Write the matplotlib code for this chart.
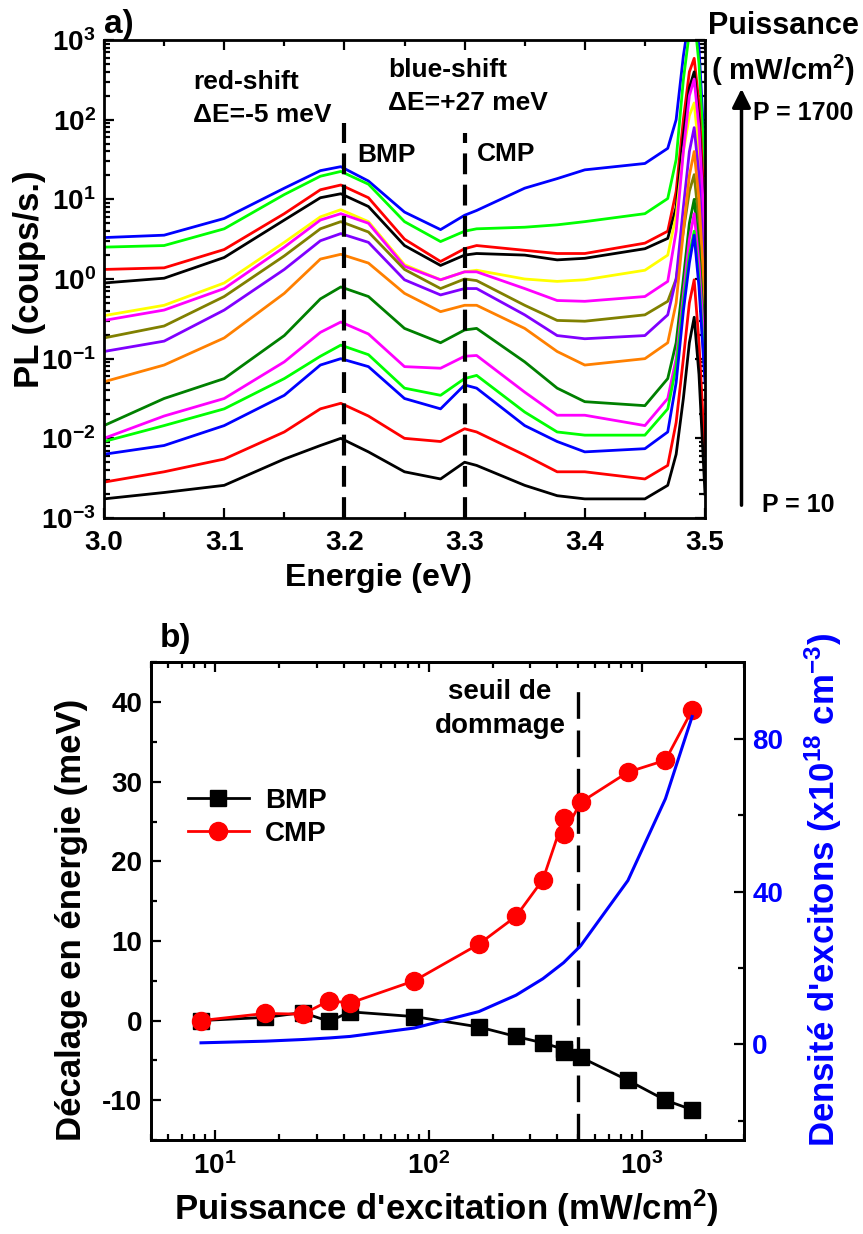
import numpy as np
import matplotlib
matplotlib.use("Agg")
import matplotlib.pyplot as plt
from matplotlib.ticker import MultipleLocator, LogLocator, FuncFormatter, NullFormatter, FixedLocator

# ---- data, panel a) : PL spectra, log10(counts/s), top (1715 mW/cm2) to bottom (8.6 mW/cm2)
energy = [3.000, 3.050, 3.100, 3.150, 3.180, 3.197, 3.220, 3.250, 3.280, 3.300, 3.310,
          3.350, 3.377, 3.400, 3.450, 3.469, 3.476, 3.482, 3.487, 3.491, 3.495, 3.500]

pl_1715 = [0.52, 0.55, 0.76, 1.14, 1.36, 1.41, 1.23, 0.84, 0.62, 0.80, 0.86, 1.14, 1.26, 1.37, 1.45, 1.64, 2.0, 2.8, 3.3, 3.5, 2.9, 1.5]
pl_1286 = [0.40, 0.42, 0.63, 1.06, 1.29, 1.35, 1.19, 0.72, 0.47, 0.60, 0.63, 0.65, 0.68, 0.72, 0.82, 1.01, 1.5, 2.5, 3.1, 3.3, 2.7, 1.3]
pl_858 = [0.12, 0.14, 0.37, 0.82, 1.12, 1.18, 1.02, 0.50, 0.22, 0.38, 0.42, 0.36, 0.32, 0.32, 0.45, 0.60, 1.1, 2.0, 2.6, 2.77, 2.2, 0.8]
pl_515 = [-0.05, 0.01, 0.27, 0.74, 1.02, 1.07, 0.91, 0.42, 0.17, 0.30, 0.32, 0.30, 0.24, 0.26, 0.38, 0.51, 0.9, 1.8, 2.4, 2.6, 2.0, 0.6]
pl_429b = [-0.46, -0.33, -0.05, 0.46, 0.78, 0.87, 0.72, 0.18, -0.01, 0.09, 0.11, 0.0, -0.03, -0.01, 0.11, 0.30, 0.8, 1.6, 2.05, 2.21, 1.6, 0.3]
pl_429a = [-0.52, -0.39, -0.12, 0.40, 0.74, 0.82, 0.70, 0.16, -0.01, 0.09, 0.09, -0.12, -0.27, -0.28, -0.22, -0.03, 0.6, 1.6, 2.3, 2.51, 1.9, 0.5]
pl_343 = [-0.74, -0.59, -0.22, 0.29, 0.63, 0.72, 0.59, 0.12, -0.12, 0.0, -0.02, -0.33, -0.52, -0.53, -0.45, -0.28, 0.0, 0.6, 1.1, 1.31, 0.7, -0.5]
pl_257 = [-0.91, -0.78, -0.39, 0.12, 0.48, 0.57, 0.46, -0.01, -0.20, -0.12, -0.12, -0.45, -0.71, -0.75, -0.71, -0.45, 0.0, 0.9, 1.6, 1.9, 1.3, 0.0]
pl_172 = [-1.29, -1.08, -0.74, -0.18, 0.25, 0.31, 0.20, -0.18, -0.41, -0.33, -0.33, -0.62, -0.91, -1.08, -1.00, -0.80, -0.3, 0.6, 1.3, 1.6, 1.0, -0.3]
pl_86 = [-1.84, -1.50, -1.25, -0.71, -0.25, -0.10, -0.22, -0.62, -0.80, -0.64, -0.62, -1.04, -1.37, -1.54, -1.59, -1.25, -0.8, 0.0, 0.7, 1.0, 0.4, -0.9]
pl_43 = [-2.0, -1.72, -1.50, -1.04, -0.67, -0.54, -0.69, -1.10, -1.12, -0.97, -0.96, -1.42, -1.71, -1.71, -1.84, -1.50, -1.0, -0.2, 0.5, 0.82, 0.2, -1.0]
pl_34 = [-2.04, -1.84, -1.63, -1.25, -0.97, -0.83, -0.95, -1.37, -1.46, -1.25, -1.21, -1.67, -1.92, -1.96, -1.96, -1.63, -1.1, -0.3, 0.3, 0.6, 0.0, -1.2]
pl_26 = [-2.2, -2.09, -1.84, -1.46, -1.08, -1.0, -1.10, -1.50, -1.63, -1.33, -1.37, -1.84, -2.04, -2.17, -2.13, -1.92, -1.3, -0.4, 0.2, 0.55, -0.1, -1.3]
pl_17 = [-2.55, -2.42, -2.26, -1.92, -1.63, -1.56, -1.72, -2.0, -2.04, -1.88, -1.92, -2.21, -2.42, -2.42, -2.51, -2.34, -1.8, -1.0, -0.3, -0.01, -0.8, -2.2]
pl_8 = [-2.76, -2.68, -2.59, -2.26, -2.09, -2.0, -2.17, -2.42, -2.51, -2.30, -2.34, -2.59, -2.72, -2.76, -2.76, -2.59, -2.2, -1.5, -0.8, -0.48, -1.2, -2.7]

spectra = [pl_1715, pl_1286, pl_858, pl_515, pl_429b, pl_429a, pl_343, pl_257,
           pl_172, pl_86, pl_43, pl_34, pl_26, pl_17, pl_8]
spec_colors = ['#0000ff', '#00ff00', '#ff0000', '#000000', '#ffff00', '#ff00ff', '#808000',
               '#8000ff', '#ff8000', '#008000', '#ff00ff', '#00ff00', '#0000ff', '#ff0000', '#000000']

bmp_energy = 3.20
cmp_energy = 3.30

# ---- data, panel b)
power = [8.6, 17.2, 25.7, 34.3, 42.9, 85.8, 172, 257, 343, 429, 429, 515, 858, 1286, 1715]
shift_bmp = [0.0, 0.4, 1.0, -0.1, 1.1, 0.5, -0.8, -2.0, -2.8, -3.6, -4.0, -4.6, -7.5, -10.0, -11.2]
shift_cmp = [0.0, 0.9, 0.8, 2.5, 2.2, 5.0, 9.6, 13.1, 17.7, 25.4, 23.4, 27.4, 31.2, 32.7, 39.0]
density = [0.43, 0.86, 1.29, 1.7, 2.1, 4.3, 8.6, 12.9, 17.2, 21.4, 21.4, 25.8, 42.9, 64.3, 85.8]
damage_threshold = 500

# ---- style
plt.rcParams['font.family'] = ['Liberation Sans', 'DejaVu Sans']
plt.rcParams['font.weight'] = 'bold'
plt.rcParams['axes.labelweight'] = 'bold'
plt.rcParams['axes.unicode_minus'] = False
plt.rcParams['mathtext.fontset'] = 'custom'
plt.rcParams['mathtext.rm'] = 'Liberation Sans:bold'
plt.rcParams['mathtext.bf'] = 'Liberation Sans:bold'
plt.rcParams['mathtext.it'] = 'Liberation Sans:bold'
plt.rcParams['mathtext.default'] = 'rm'

W, H = 863, 1234
fig = plt.figure(figsize=(W / 100, H / 100), dpi=100)


def fx(x):
    return x / W


def fy(y):
    return 1 - y / H


def style_axes(ax):
    for s in ax.spines.values():
        s.set_linewidth(2.0)
    ax.tick_params(which='both', direction='in', width=1.6, top=True, right=True,
                   labelsize=20, pad=6)
    ax.tick_params(which='major', length=7)
    ax.tick_params(which='minor', length=4)


def pow10(v, pos):
    return r'$10^{%d}$' % int(round(np.log10(v)))


# ---------------- panel a)
ax1 = fig.add_axes([fx(104), fy(518), fx(601), 478 / H])
for vals, c in zip(spectra, spec_colors):
    ax1.plot(energy, 10 ** np.array(vals), color=c, lw=2.0)
ax1.set_yscale('log')
ax1.set_xlim(3.0, 3.5)
ax1.set_ylim(1e-3, 1e3)
ax1.xaxis.set_major_locator(MultipleLocator(0.1))
ax1.xaxis.set_minor_locator(MultipleLocator(0.05))
ax1.yaxis.set_major_locator(LogLocator(base=10, numticks=10))
ax1.yaxis.set_minor_locator(LogLocator(base=10, subs=np.arange(2, 10), numticks=10))
ax1.yaxis.set_major_formatter(FuncFormatter(pow10))
ax1.yaxis.set_minor_formatter(NullFormatter())
ax1.xaxis.set_major_formatter(FuncFormatter(lambda v, p: '%.1f' % v))
style_axes(ax1)
ax1.tick_params(axis='x', pad=9)
ax1.plot([bmp_energy, bmp_energy], [1e-3, 90], color='black', lw=3, ls=(0, (5, 2.5)))
ax1.plot([cmp_energy, cmp_energy], [1e-3, 68], color='black', lw=3, ls=(0, (5, 2.5)))
ax1.set_xlabel('Energie (eV)', fontsize=23)
ax1.set_ylabel('PL (coups/s.)', fontsize=25)
ax1.xaxis.set_label_coords(0.456, -0.095)
ax1.yaxis.set_label_coords(-0.097, 0.50)

fig.text(fx(104), fy(25), 'a)', fontsize=24, va='center', ha='left')
fig.text(fx(193), fy(82), 'red-shift', fontsize=19, va='center', ha='left')
fig.text(fx(193), fy(115), '\u0394E=-5 meV', fontsize=19, va='center', ha='left')
fig.text(fx(388), fy(70), 'blue-shift', fontsize=19, va='center', ha='left')
fig.text(fx(388), fy(103), '\u0394E=+27 meV', fontsize=19, va='center', ha='left')
fig.text(fx(357), fy(155), 'BMP', fontsize=19, va='center', ha='left')
fig.text(fx(477), fy(154), 'CMP', fontsize=19, va='center', ha='left')

fig.text(fx(783), fy(26), 'Puissance', fontsize=22, va='center', ha='center')
fig.text(fx(783), fy(70), '( mW/cm$^{2}$)', fontsize=21, va='center', ha='center')
fig.text(fx(753), fy(113), 'P = 1700', fontsize=18, va='center', ha='left')
fig.text(fx(762), fy(505), 'P = 10', fontsize=18, va='center', ha='left')
fig.add_artist(matplotlib.patches.FancyArrowPatch(
    (fx(741.5), fy(508)), (fx(741.5), fy(86)), transform=fig.transFigure,
    arrowstyle='-|>', mutation_scale=28, lw=2.5, color='black'))

# ---------------- panel b)
ax2 = fig.add_axes([fx(150.7), fy(1140), fx(593.3), 477.7 / H])
ax2.plot(power, shift_bmp, color='black', lw=2, marker='s', ms=11, label='BMP', zorder=3)
ax2.plot(power, shift_cmp, color='red', lw=2, marker='o', ms=13, label='CMP', zorder=4)
ax2.plot([damage_threshold, damage_threshold], [-15, 42.2], color='black', lw=2.4,
         ls=(0, (8, 3.5)), zorder=2)
ax2.set_xscale('log')
ax2.set_xlim(5, 3000)
ax2.set_ylim(-15, 45)
ax2.yaxis.set_major_locator(MultipleLocator(10))
ax2.yaxis.set_minor_locator(MultipleLocator(5))
ax2.xaxis.set_major_locator(LogLocator(base=10, numticks=10))
ax2.xaxis.set_minor_locator(LogLocator(base=10, subs=np.arange(2, 10), numticks=10))
ax2.xaxis.set_major_formatter(FuncFormatter(pow10))
ax2.xaxis.set_minor_formatter(NullFormatter())
style_axes(ax2)
ax2.tick_params(right=False, which='both')
ax2.tick_params(axis='x', pad=9)
ax2.set_xlabel("Puissance d'excitation (mW/cm$^{2}$)", fontsize=25)
ax2.set_ylabel("D\u00e9calage en \u00e9nergie (meV)", fontsize=25)
ax2.xaxis.set_label_coords(0.498, -0.10)
ax2.yaxis.set_label_coords(-0.105, 0.46)
ax2.legend(loc='upper left', bbox_to_anchor=(0.02, 0.79), frameon=False, fontsize=20,
           handlelength=2.2, labelspacing=0.25, handletextpad=0.6)

ax3 = ax2.twinx()
ax3.plot(power, density, color='blue', lw=2.2, zorder=1)
ax3.set_ylim(-25, 100)
ax3.yaxis.set_major_locator(FixedLocator([0, 40, 80]))
ax3.yaxis.set_minor_locator(FixedLocator([-20, 20, 60]))
ax3.tick_params(which='both', direction='in', width=1.6, labelsize=20, labelcolor='blue', pad=6)
ax3.tick_params(which='major', length=7)
ax3.tick_params(which='minor', length=4)
for s in ax3.spines.values():
    s.set_linewidth(2.0)
ax3.set_ylabel("Densit\u00e9 d'excitons (x10$^{18}$ cm$^{-3}$)", fontsize=25, color='blue')
ax3.yaxis.set_label_coords(1.098, 0.523)

fig.text(fx(160), fy(639), 'b)', fontsize=24, va='center', ha='left')
fig.text(fx(500), fy(692), 'seuil de', fontsize=20, va='center', ha='center')
fig.text(fx(500), fy(726), 'dommage', fontsize=20, va='center', ha='center')

fig.savefig('out.png', dpi=100)
